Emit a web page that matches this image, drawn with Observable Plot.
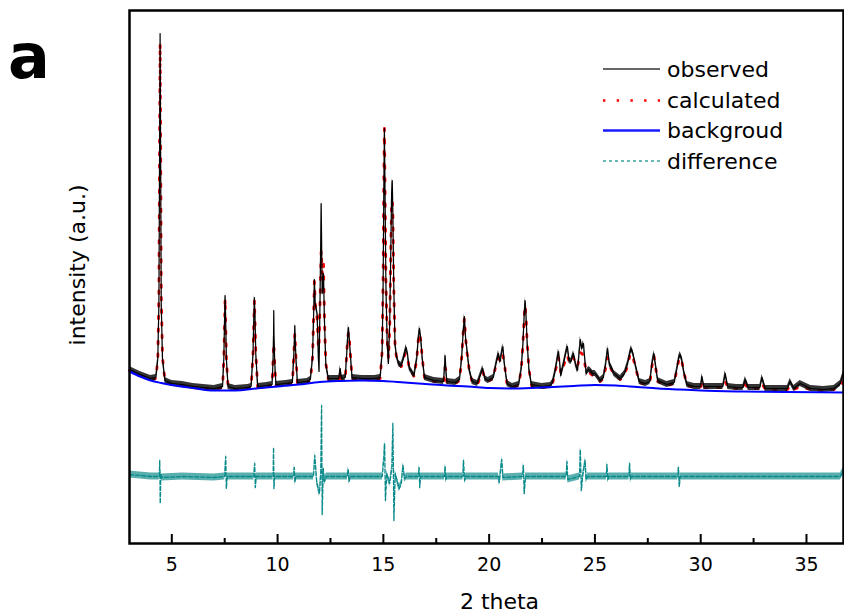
<!DOCTYPE html>
<html>
<head>
<meta charset="utf-8">
<script src="https://cdn.jsdelivr.net/npm/d3@7"></script>
<script src="https://cdn.jsdelivr.net/npm/@observablehq/plot@0.6"></script>
<style>
  html, body { margin: 0; padding: 0; background: #fff; overflow: hidden; }
  #chart { width: 844px; height: 615px; }
</style>
</head>
<body>
<div id="chart"></div>
<script>
// ---- data (2θ in degrees, intensity in arbitrary units) ----
const twoTheta = [
  3.00, 3.50, 4.00, 4.25, 4.34, 4.39, 4.42, 4.447, 4.475, 4.50, 4.56, 4.68, 5.00, 5.50, 6.00, 6.50, 7.00,
  7.40, 7.46, 7.49, 7.52, 7.55, 7.58, 7.66, 8.00, 8.60,
  8.75, 8.84, 8.875, 8.905, 8.935, 8.97, 9.06, 9.50,
  9.74, 9.79, 9.81, 9.82, 9.83, 9.86, 9.92, 10.40,
  10.70, 10.76, 10.79, 10.815, 10.84, 10.87, 10.94, 11.40,
  11.55, 11.65, 11.70, 11.74, 11.78, 11.87, 11.93, 11.96, 12.01, 12.06, 12.11, 12.17, 12.22, 12.28, 12.40, 12.80,
  12.90, 12.96, 13.02, 13.20, 13.27, 13.31, 13.35, 13.39, 13.44, 13.52, 14.00, 14.60,
  14.85, 14.94, 14.99, 15.02, 15.05, 15.08, 15.12, 15.18, 15.24, 15.30, 15.35, 15.39, 15.42, 15.45, 15.49, 15.55, 15.62, 15.72,
  15.85, 15.95, 16.03, 16.08, 16.14, 16.22, 16.45, 16.58, 16.65, 16.71, 16.77, 16.84, 16.95, 17.40,
  17.85, 17.90, 17.92, 17.95, 18.00, 18.40, 18.60, 18.70, 18.77, 18.83, 18.89, 18.96, 19.05, 19.20, 19.45, 19.58, 19.70, 19.80, 19.95,
  20.20, 20.33, 20.44, 20.52, 20.60, 20.65, 20.72, 20.85, 21.10, 21.40, 21.52, 21.60, 21.66, 21.70, 21.74, 21.80, 21.88, 22.00, 22.50, 22.90,
  23.00, 23.12, 23.22, 23.28, 23.34, 23.39, 23.50, 23.62, 23.70, 23.78, 23.87, 23.99, 24.08, 24.18, 24.25, 24.31, 24.38, 24.46, 24.52, 24.59, 24.70, 24.78, 24.90, 25.01, 25.25,
  25.40, 25.50, 25.60, 25.68, 25.78, 25.90, 26.20, 26.40, 26.55, 26.65, 26.72, 26.80, 26.92, 27.10, 27.40, 27.60, 27.70, 27.79, 27.87, 27.97, 28.40, 28.75, 28.88, 28.96, 29.03, 29.10, 29.20, 29.35, 29.70,
  30.00, 30.06, 30.15, 30.60, 31.05, 31.16, 31.28, 31.70, 32.00, 32.11, 32.25, 32.80, 32.90, 33.05, 33.60, 34.10, 34.23, 34.40, 34.70, 35.20, 35.80, 36.30, 36.60, 36.75
];
const observed = [
  174, 169, 165, 166, 185, 240, 380, 510, 380, 240, 185, 163, 160, 159, 157, 156, 155,
  157, 185, 220, 248, 220, 185, 157, 155, 156,
  157, 190, 225, 246, 225, 190, 157, 158,
  159, 185, 210, 233, 210, 185, 159, 160,
  161, 185, 200, 218, 200, 185, 161, 162,
  164, 185, 225, 264, 240, 230, 185, 172, 250, 340, 250, 270, 220, 180, 165, 165,
  165, 175, 165, 166, 190, 205, 216, 205, 190, 166, 165, 165,
  166, 190, 260, 350, 415, 350, 260, 200, 180, 220, 290, 350, 363, 330, 260, 200, 188, 180,
  178, 185, 192, 196, 190, 176, 168, 185, 205, 215, 205, 185, 166, 163,
  162, 180, 188, 176, 162, 161, 164, 185, 210, 227, 205, 193, 175, 162, 160, 168, 175, 165, 163,
  166, 180, 190, 182, 192, 197, 180, 160, 157, 159, 175, 200, 230, 243, 230, 200, 175, 159, 157, 158,
  161, 172, 185, 192, 180, 168, 178, 190, 197, 183, 182, 190, 180, 173, 190, 204, 195, 200, 185, 170, 174, 173, 170, 170, 163,
  166, 178, 195, 180, 176, 170, 165, 170, 180, 190, 195, 190, 178, 162, 160, 162, 180, 190, 178, 163, 159, 161, 175, 185, 189, 185, 172, 159, 157,
  157, 167, 157, 157, 157, 170, 157, 156, 156, 164, 156, 156, 166, 155, 155, 155, 162, 155, 160, 155, 154, 155, 160, 170
];
const calculated = [
  173, 168, 164, 165, 186, 250, 390, 500, 390, 250, 186, 162, 159, 158, 156, 155, 154,
  156, 185, 215, 245, 215, 185, 156, 154, 155,
  156, 190, 220, 243, 220, 190, 156, 157,
  158, 185, 195, 200, 195, 180, 158, 159,
  160, 185, 200, 210, 200, 185, 160, 161,
  163, 185, 225, 262, 240, 225, 195, 200, 245, 293, 270, 280, 220, 180, 164, 164,
  164, 172, 164, 165, 190, 205, 211, 205, 190, 165, 164, 164,
  165, 192, 270, 360, 415, 355, 265, 205, 185, 215, 290, 340, 343, 330, 260, 200, 186, 180,
  177, 184, 190, 190, 186, 176, 167, 185, 203, 210, 203, 185, 165, 162,
  161, 175, 176, 174, 161, 160, 163, 185, 210, 225, 205, 190, 175, 161, 159, 167, 172, 164, 162,
  165, 180, 185, 183, 190, 188, 180, 159, 156, 158, 175, 200, 228, 238, 228, 200, 175, 158, 156, 157,
  160, 172, 180, 186, 178, 170, 176, 185, 188, 182, 180, 186, 180, 177, 185, 191, 190, 188, 180, 172, 172, 170, 168, 167, 162,
  165, 175, 186, 178, 174, 169, 164, 169, 178, 188, 190, 186, 176, 161, 159, 161, 178, 188, 176, 162, 158, 160, 175, 183, 186, 183, 172, 158, 156,
  156, 162, 156, 156, 156, 162, 156, 155, 155, 159, 155, 155, 160, 154, 154, 154, 158, 154, 157, 154, 153, 154, 158, 162
];
const bgTheta = [3, 3.5, 4, 4.5, 5, 6, 7, 8, 9, 10, 11, 12, 13, 14, 15, 16, 17, 18, 19, 20, 21, 22, 23, 24, 25, 26, 27, 28, 29, 30, 32, 34, 36.75];
const background = [172, 167, 163, 160.5, 158.5, 155.5, 153, 153, 155, 157, 159, 161.5, 162.5, 163, 162.5, 161, 159.5, 158, 157, 155.5, 155, 155.5, 156.5, 157.5, 158.5, 158, 156.5, 155, 154, 153, 152, 151.5, 151];
const diffTheta = [
  3.0, 4.0, 4.41, 4.43, 4.455, 4.48, 4.52, 5.5, 7.0, 7.50, 7.55, 7.58, 7.62,
  8.88, 8.92, 8.95, 8.99, 9.79, 9.81, 9.83, 9.86, 10.76, 10.79, 10.82, 10.86,
  11.70, 11.76, 11.85, 11.98, 12.04, 12.08, 12.11, 12.16, 12.22, 12.30,
  13.30, 13.34, 13.38, 13.42, 14.95, 15.02, 15.06, 15.10, 15.16, 15.30, 15.40, 15.45, 15.50, 15.56, 15.75, 15.85, 15.93, 16.00, 16.10,
  16.66, 16.69, 16.72, 16.76, 17.89, 17.92, 17.95, 18.00, 18.76, 18.79, 18.84, 18.90,
  20.44, 20.48, 20.60, 20.65, 21.58, 21.62, 21.66, 21.72, 23.64, 23.68, 23.72,
  24.27, 24.31, 24.36, 24.42, 24.54, 24.58, 24.65, 25.54, 25.57, 25.61, 25.66, 26.61, 26.64, 26.68, 26.72,
  28.92, 28.95, 28.99, 29.03, 32.0, 36.6, 36.75
];
const difference = [
  69, 67, 67, 83, 40, 70, 66, 67, 66, 67, 87, 55, 67,
  67, 80, 56, 67, 67, 96, 55, 67, 67, 76, 61, 67,
  67, 88, 62, 50, 70, 138, 29, 75, 62, 67,
  67, 74, 62, 67, 67, 85, 100, 43, 70, 60, 75, 120, 23, 70, 55, 60, 78, 65, 67,
  67, 76, 56, 67, 67, 77, 64, 67, 67, 83, 63, 67,
  67, 61, 84, 66, 67, 78, 50, 67, 67, 82, 64,
  67, 94, 53, 67, 83, 64, 67, 67, 79, 64, 67, 67, 80, 64, 67,
  67, 76, 57, 67, 67, 67, 73
];
const majorTicks = [5, 10, 15, 20, 25, 30, 35];
const minorTicks = [7.5, 12.5, 17.5, 22.5, 27.5, 32.5];
const legendLabels = ["observed", "calculated", "backgroud", "difference"];
const panelLabel = "a";
const xTitle = "2 theta";
const yTitle = "intensity (a.u.)";

// ---- tables built from the arrays ----
const profile = twoTheta.map((t, i) => ({t, obs: observed[i], calc: calculated[i]}));
const bgRows = bgTheta.map((t, i) => ({t, v: background[i]}));
const diffRows = diffTheta.map((t, i) => ({t, v: difference[i]}));

const chart = Plot.plot({
  width: 844,
  height: 615,
  marginLeft: 129,
  marginRight: 1,
  marginTop: 10,
  marginBottom: 72,
  style: {fontFamily: "DejaVu Sans", background: "#fff", overflow: "visible"},
  x: {domain: [3, 36.75]},
  y: {domain: [0, 533], axis: null},
  marks: [
    Plot.line(profile, {x: "t", y: "calc", stroke: "#ff0000", strokeWidth: 2.8, strokeDasharray: "2.6,10"}),
    Plot.areaY(profile, {x: "t", y1: d => d.obs - 3, y2: d => d.obs + 3, fill: "#111", fillOpacity: 0.85}),
    Plot.line(profile, {x: "t", y: "obs", stroke: "#000", strokeWidth: 1.2}),
    Plot.line(bgRows, {x: "t", y: "v", stroke: "#0000ff", strokeWidth: 2, curve: "monotone-x"}),
    Plot.areaY(diffRows, {x: "t", y1: d => d.v - 3.5, y2: d => d.v + 3.5, fill: "#138c8c", fillOpacity: 0.7}),
    Plot.line(diffRows, {x: "t", y: "v", stroke: "#088a8a", strokeWidth: 1.3, strokeDasharray: "4,2"}),
    Plot.ruleX(majorTicks, {x: d => d, y1: 0, y2: 9, stroke: "#000", strokeWidth: 2}),
    Plot.ruleX(minorTicks, {x: d => d, y1: 0, y2: 5, stroke: "#000", strokeWidth: 2}),
    Plot.axisX({ticks: majorTicks, tickSize: 0, tickPadding: 14, fontSize: 19, label: null, tickFormat: d => String(d)}),
    Plot.frame({stroke: "#000", strokeWidth: 2.5})
  ]
});
document.getElementById("chart").appendChild(chart);

// ---- titles and legend ----
const svg = d3.select(chart);
svg.append("text").text(panelLabel)
  .attr("x", 8).attr("y", 78).attr("text-anchor", "start")
  .attr("font-family", "DejaVu Sans").attr("font-weight", "bold").attr("font-size", 62).attr("fill", "#000");
svg.append("text").text(xTitle)
  .attr("x", 499.5).attr("y", 609).attr("text-anchor", "middle")
  .attr("font-family", "DejaVu Sans").attr("font-size", 22).attr("fill", "#000");
svg.append("text").text(yTitle)
  .attr("transform", "translate(77,265) rotate(-90)").attr("text-anchor", "middle").attr("dy", "0.35em")
  .attr("font-family", "DejaVu Sans").attr("font-size", 22).attr("fill", "#000");

const legendStyles = [
  {stroke: "#333", width: 1.5, dash: null},
  {stroke: "#ff0000", width: 2.6, dash: "2.4,11.3"},
  {stroke: "#1a1aff", width: 2.5, dash: null},
  {stroke: "#3aa3a3", width: 1.5, dash: "3,3"}
];
const legendY = [69, 100.5, 130.5, 161];
const lg = svg.append("g");
legendLabels.forEach((label, i) => {
  const s = legendStyles[i];
  lg.append("line")
    .attr("x1", 603).attr("x2", 660).attr("y1", legendY[i]).attr("y2", legendY[i])
    .attr("stroke", s.stroke).attr("stroke-width", s.width)
    .attr("stroke-dasharray", s.dash).attr("stroke-linecap", "butt");
  lg.append("text").text(label)
    .attr("x", 667).attr("y", legendY[i] + 7.7).attr("text-anchor", "start")
    .attr("font-family", "DejaVu Sans").attr("font-size", 22).attr("fill", "#000");
});
</script>
</body>
</html>
